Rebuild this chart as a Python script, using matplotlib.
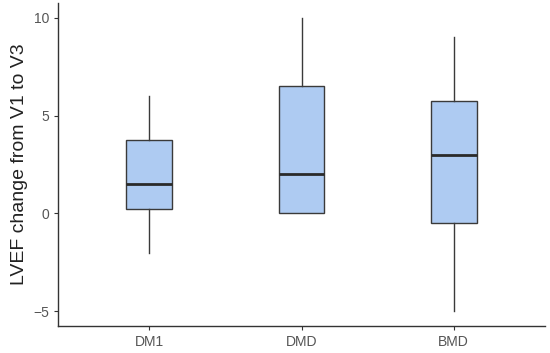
import matplotlib
matplotlib.use("Agg")
import matplotlib.pyplot as plt

plt.rcParams["font.family"] = ["Liberation Sans", "DejaVu Sans"]

groups = ["DM1", "DMD", "BMD"]
whislo = [-2, 0, -5]
q1 = [0.25, 0, -0.5]
med = [1.5, 2, 3]
q3 = [3.75, 6.5, 5.75]
whishi = [6, 10, 9]

fig = plt.figure(figsize=(5.5, 3.53), dpi=100)
ax = fig.add_axes([58/550, 1-326/353, (545-58)/550, (326-3)/353])

stats = [dict(label=g, whislo=a, q1=b, med=c, q3=d, whishi=e, fliers=[])
         for g, a, b, c, d, e in zip(groups, whislo, q1, med, q3, whishi)]
ax.bxp(stats, positions=[1, 2, 3], widths=0.3, showcaps=False, patch_artist=True,
       boxprops=dict(facecolor="#aecbf2", edgecolor="#3a3a3a", linewidth=1.0),
       medianprops=dict(color="#2a2a2a", linewidth=2.0),
       whiskerprops=dict(color="#3a3a3a", linewidth=1.0))

ax.set_xlim(0.4, 3.6)
ax.set_ylim(-5.75, 10.75)
ax.set_yticks([-5, 0, 5, 10])
ax.set_yticklabels(["\u22125", "0", "5", "10"])
ax.set_xticks([1, 2, 3])
ax.set_xticklabels(groups)
for s in ["top", "right"]:
    ax.spines[s].set_visible(False)
for s in ["left", "bottom"]:
    ax.spines[s].set_color("#333333")
    ax.spines[s].set_linewidth(1.0)
ax.tick_params(axis="both", colors="#333333", labelcolor="#555555", labelsize=10, length=3)
ax.set_ylabel("LVEF change from V1 to V3", fontsize=14, color="#222222", labelpad=4)

fig.savefig("out.png", dpi=100)
